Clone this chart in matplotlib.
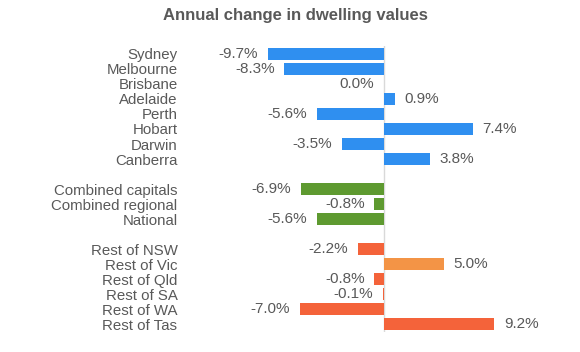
import matplotlib
matplotlib.use("Agg")
import matplotlib.pyplot as plt
import numpy as np

plt.rcParams['font.family'] = ['Liberation Sans', 'DejaVu Sans']

# data ("" label / None value = spacer row)
labels = ["Sydney", "Melbourne", "Brisbane", "Adelaide", "Perth", "Hobart", "Darwin", "Canberra",
          "",
          "Combined capitals", "Combined regional", "National",
          "",
          "Rest of NSW", "Rest of Vic", "Rest of Qld", "Rest of SA", "Rest of WA", "Rest of Tas"]
values = [-9.7, -8.3, 0.0, 0.9, -5.6, 7.4, -3.5, 3.8,
          None,
          -6.9, -0.8, -5.6,
          None,
          -2.2, 5.0, -0.8, -0.1, -7.0, 9.2]
groups = ["cap"] * 8 + [None] + ["agg"] * 3 + [None] + ["reg"] * 6

blue = "#2f8ff0"
green = "#5e9a30"
red = "#f4633a"
orange = "#f39446"
colour_map = {"cap": blue, "agg": green, "reg": red}
text_col = "#595959"

fig = plt.figure(figsize=(5.8, 3.52), dpi=100)
ax = fig.add_axes([190 / 580, 0.058, 340 / 580, 0.81])

ypos = np.arange(len(labels))
for y, v, g, lab in zip(ypos, values, groups, labels):
    if v is None:
        continue
    col = colour_map[g]
    if lab == "Rest of Vic":
        col = orange
    ax.barh(y, v, height=0.8, color=col, zorder=2)
    txt = f"{v:.1f}%"
    if v > 0:
        ax.annotate(txt, (v, y), xytext=(7, 0), textcoords="offset points",
                    ha="left", va="center", fontsize=11, color=text_col)
    else:
        ax.annotate(txt, (v, y), xytext=(-7, 0), textcoords="offset points",
                    ha="right", va="center", fontsize=11, color=text_col)

ax.axvline(0, color="#d9d9d9", lw=1, zorder=1)
ax.set_xlim(-16.17, 12.17)
ax.set_ylim(len(labels) - 0.5, -0.5)
ax.set_yticks(ypos)
ax.set_yticklabels(labels, fontsize=10.8, color=text_col)
ax.tick_params(axis="y", length=0, pad=9)
ax.set_xticks([])
for s in ax.spines.values():
    s.set_visible(False)

fig.text(0.51, 0.955, "Annual change in dwelling values", ha="center", va="center",
         fontsize=12, fontweight="bold", color=text_col)

fig.savefig("out.png", dpi=100)
